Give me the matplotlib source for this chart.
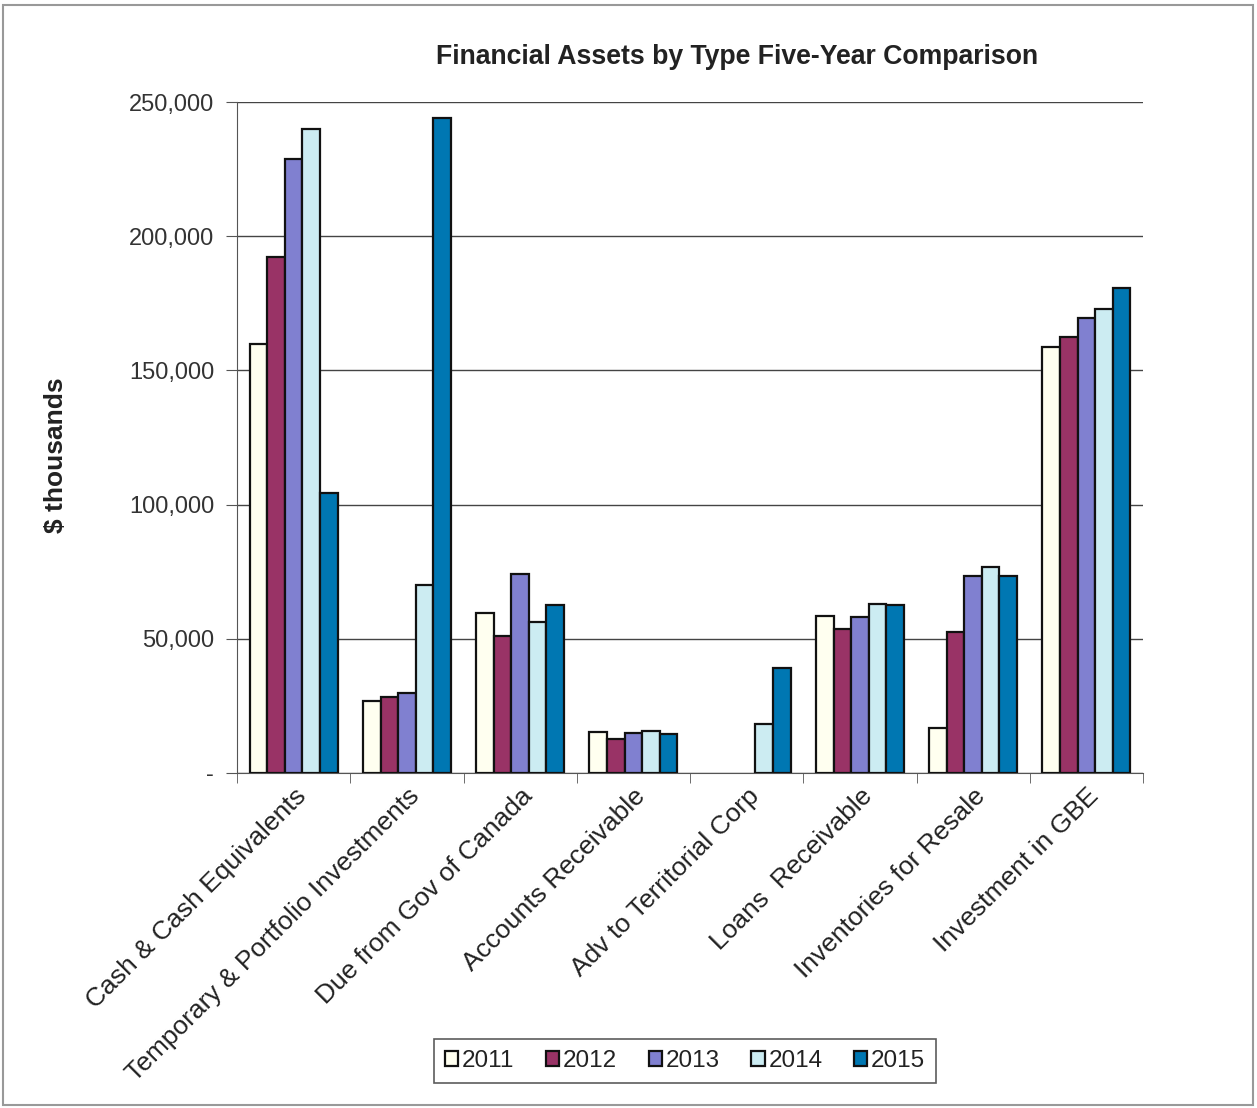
import numpy as np
import matplotlib.pyplot as plt
from matplotlib.ticker import FuncFormatter, FixedLocator

plt.rcParams['font.family'] = ['Liberation Sans', 'DejaVu Sans']

categories = ["Cash & Cash Equivalents", "Temporary & Portfolio Investments",
              "Due from Gov of Canada", "Accounts Receivable",
              "Adv to Territorial Corp", "Loans  Receivable",
              "Inventories for Resale", "Investment in GBE"]
years = ["2011", "2012", "2013", "2014", "2015"]

v2011 = [160000, 26800, 59600, 15300, 0, 58500, 16800, 158700]
v2012 = [192300, 28300, 51000, 12700, 0, 53700, 52500, 162400]
v2013 = [228800, 29800, 74100, 14900, 0, 58100, 73400, 169500]
v2014 = [240000, 70000, 56300, 15600, 18300, 63000, 76800, 172900]
v2015 = [104300, 244000, 62600, 14500, 39100, 62600, 73400, 180700]
series = [v2011, v2012, v2013, v2014, v2015]

colors = ["#FFFFF0", "#993366", "#8080D0", "#CCECF2", "#0077B2"]

fig = plt.figure(figsize=(12.57, 11.08), dpi=100)
ax = fig.add_axes([237 / 1257, 1 - 773 / 1108, (1143 - 237) / 1257, (773 - 102) / 1108])

x = np.arange(len(categories))
w = 0.155
for i, (vals, c, yr) in enumerate(zip(series, colors, years)):
    vals = np.array(vals, dtype=float)
    keep = vals > 0  # empty categories get no bar at all
    ax.bar((x + (i - 2) * w)[keep], vals[keep], w, color=c, edgecolor="#111111",
           linewidth=1.6, label=yr, zorder=3)

ax.set_xlim(-0.5, len(categories) - 0.5)
ax.set_ylim(0, 250000)
ax.set_yticks(np.arange(0, 250001, 50000))
ax.yaxis.set_major_formatter(FuncFormatter(lambda v, p: "-" if v == 0 else f"{int(v):,}"))
ax.grid(axis="y", color="#444444", linewidth=1.0, zorder=0)
for s in ["top", "right"]:
    ax.spines[s].set_visible(False)
ax.spines["left"].set_color("#555555")
ax.spines["bottom"].set_color("#555555")
ax.tick_params(axis="y", labelsize=17, length=8, color="#555555", pad=8.5, labelcolor="#333333")

ax.set_xticks(x)
ax.set_xticklabels(categories, rotation=45, ha="right", rotation_mode="anchor",
                   fontsize=19, color="#222222")
ax.tick_params(axis="x", length=0, pad=8)
ax.xaxis.set_minor_locator(FixedLocator(np.arange(-0.5, len(categories), 1.0)))
ax.tick_params(axis="x", which="minor", length=7, color="#555555")

ax.set_ylabel("$ thousands", fontsize=19, fontweight="bold", color="#222222")
ax.yaxis.set_label_coords(-(237 - 68) / 906, (773 - 455) / 671)
fig.text(737 / 1257, 1 - 57 / 1108, "Financial Assets by Type Five-Year Comparison",
         ha="center", va="center", fontsize=19.2, fontweight="bold", color="#222222")

leg = fig.legend(loc="center", bbox_to_anchor=(685 / 1257, 1 - 1061 / 1108), ncol=5,
                 fontsize=17.5, frameon=True, fancybox=False, edgecolor="#333333",
                 handlelength=0.55, handleheight=0.55, handletextpad=0.15, columnspacing=1.3,
                 borderpad=0.45)
leg.get_frame().set_linewidth(1.2)
for t in leg.get_texts():
    t.set_color("#222222")

fig.patches.append(plt.Rectangle((3 / 1257, 3 / 1108), 1250 / 1257, 1100 / 1108,
                                 transform=fig.transFigure, fill=False, edgecolor="#999999", linewidth=1.5))

fig.savefig("out.png", dpi=100)
